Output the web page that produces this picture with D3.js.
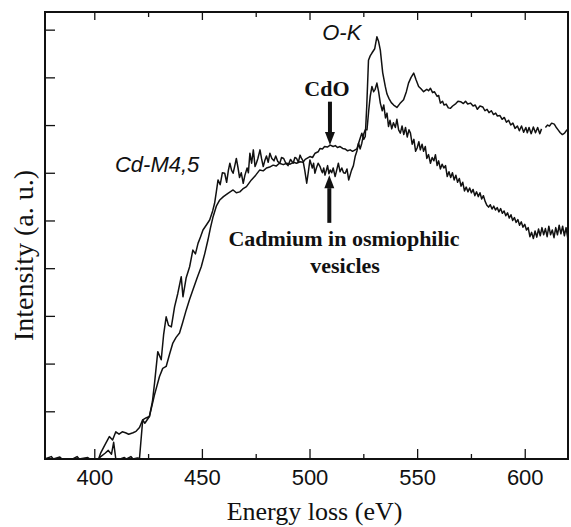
<!DOCTYPE html>
<html>
<head>
<meta charset="utf-8">
<script src="https://cdn.jsdelivr.net/npm/d3@7"></script>
<style>
  body { margin: 0; background: #fff; }
</style>
</head>
<body>
<svg id="chart"></svg>
<script>
// CdO reference spectrum: [energy loss eV, intensity a.u.]
const cdoSeries = [
  [377, 0], [402, 0], [403, 0.13], [405, 0.3], [407, 0.47], [408.5, 0.4], [410, 0.57],
  [411.5, 0.52], [413, 0.57], [414.5, 0.55], [416, 0.52], [418, 0.55], [419.4, 0.58],
  [421, 0.66], [422.5, 0.82], [424, 0.86], [425.6, 0.89], [428, 1.35], [430.3, 1.73],
  [431.8, 1.9], [433.4, 1.94], [435, 2.2], [436.5, 2.43], [438, 2.55], [439.6, 2.64],
  [441, 2.85], [442.7, 3.12], [444.3, 3.35], [445.8, 3.54], [447.8, 3.8], [449.7, 4.03],
  [451.3, 4.3], [452.8, 4.59], [454, 4.85], [455.2, 5.08], [456.7, 5.3], [458.3, 5.43],
  [460, 5.5], [462.1, 5.57], [464.5, 5.64], [466, 5.58], [467.6, 5.6], [469, 5.66],
  [470.7, 5.71], [473, 5.85], [475, 5.95], [476.9, 6.06], [478.5, 6.04], [480, 6.1],
  [481.5, 6.12], [483.1, 6.16], [484.5, 6.14], [486, 6.2], [487.8, 6.17], [489.4, 6.2],
  [491, 6.18], [492.5, 6.22], [494, 6.2], [495.6, 6.23], [497, 6.22], [498, 6.28],
  [500.2, 6.34], [501.4, 6.32], [502.6, 6.41], [504, 6.44], [504.9, 6.51], [506, 6.5],
  [507, 6.55], [508.3, 6.54], [509.6, 6.58], [511, 6.55], [512, 6.57], [513, 6.53],
  [514.2, 6.55], [515.4, 6.51], [516.5, 6.5], [517.7, 6.46], [518.9, 6.48], [520, 6.45],
  [521.2, 6.48], [522, 6.5], [522.8, 6.62], [523.5, 6.72], [524.3, 6.83], [525.2, 6.7],
  [525.9, 6.76], [526.6, 7.4], [527.4, 8.36], [528.2, 8.45], [529, 8.51], [530.3, 8.6],
  [531.3, 8.85], [532.1, 8.75], [532.9, 8.57], [534, 8.1], [535.2, 7.81], [536, 7.65],
  [537, 7.55], [538, 7.47], [539.1, 7.42], [540.6, 7.37], [542, 7.45], [543.7, 7.53],
  [545, 7.7], [546, 7.88], [547.2, 8.0], [548.4, 8.09], [549.5, 7.95], [550.7, 7.81],
  [551.8, 7.76], [553, 7.7], [554.5, 7.75], [555.3, 7.72], [556.2, 7.77], [557.2, 7.68],
  [558, 7.7], [559.3, 7.6], [560, 7.62], [560.8, 7.46], [561.8, 7.5], [562.5, 7.42],
  [563.5, 7.44], [564.5, 7.36], [565.5, 7.35], [566.5, 7.4], [568, 7.45], [569, 7.5],
  [570.2, 7.49], [571.5, 7.45], [572.5, 7.5], [573.5, 7.44], [574.8, 7.46], [576, 7.4],
  [577, 7.42], [578, 7.33], [579.2, 7.4], [580.5, 7.38], [581.5, 7.3], [582.5, 7.33],
  [583.4, 7.26], [584.5, 7.3], [585.5, 7.22], [586.5, 7.25], [587.3, 7.19], [588.5, 7.2],
  [589.5, 7.12], [590.5, 7.16], [591.5, 7.06], [592.5, 7.1], [593.5, 7.0], [594.5, 7.04],
  [595.5, 6.93], [596.6, 6.98], [597.5, 6.88], [598.5, 6.98], [599.5, 6.85], [600.5, 6.95],
  [601.2, 6.84], [602, 6.95], [603, 6.82], [604, 6.96], [605, 6.84], [606, 6.95],
  [607, 6.82], [607.8, 6.92], [608.7, null], [609.6, 6.95], [610.6, 7.0], [611.5, 6.98],
  [612.5, 7.04], [613.7, 7.02], [614.5, 6.96], [615.5, 6.9], [616.5, 6.84], [617.5, 6.8],
  [618.5, 6.83], [619.3, 6.88], [620.1, 6.92]
];

// Cadmium in osmiophilic vesicles: [energy loss eV, intensity a.u.]
const vesicleSeries = [
  [377, 0], [380, 0.05], [381, 0], [384, 0.04], [385, 0], [390, 0], [392, 0.05], [393, 0],
  [397, 0.03], [398, 0], [402, 0], [403, 0.05], [405, 0.12], [406.5, 0.18], [408, 0.1],
  [409, 0.35], [410, 0], [412, 0], [414, 0.03], [415, 0], [417, 0.05], [418, 0],
  [420, 0.02], [421, 0.01], [422.5, 0.82], [423.5, 0.75], [425.6, 0.89], [427, 1.2],
  [428, 1.59], [429.5, 2.25], [431.1, 2.08], [432.2, 2.6], [433.4, 2.98], [434.5, 2.8],
  [435.8, 2.77], [437.3, 3.19], [438.8, 3.47], [440.4, 3.82], [441.2, 3.4], [442.7, 3.8],
  [444.3, 4.03], [445.8, 4.38], [447, 4.3], [448.2, 4.52], [449.3, 4.65], [450.5, 4.8],
  [452, 4.9], [453.6, 5.01], [455, 5.2], [455.9, 5.36], [456.7, 5.6], [457.5, 5.85],
  [458.5, 5.75], [459.5, 6.0], [460.6, 5.99], [461.5, 5.8], [462.3, 6.05], [463, 6.2],
  [463.8, 6.05], [464.5, 5.99], [465.3, 6.15], [466, 6.3], [466.8, 6.1], [467.5, 5.9],
  [468.3, 6.0], [469.2, 5.78], [470, 5.95], [471, 6.1], [471.6, 6.0], [472.3, 6.41],
  [473.1, 6.2], [473.9, 6.48], [474.7, 6.13], [475.3, 6.2], [476, 6.3], [477, 6.48],
  [477.7, 6.3], [478.5, 6.13], [479.2, 6.25], [480, 6.35], [480.8, 6.22], [481.6, 6.41],
  [482.5, 6.3], [483.5, 6.25], [484.3, 6.35], [485.2, 6.24], [486.2, 6.2], [487, 6.32],
  [488, 6.3], [489, 6.2], [490, 6.15], [491.2, 6.28], [492.4, 6.2], [493.2, 6.32],
  [494, 6.3], [494.8, 6.22], [495.6, 6.37], [496.3, 6.3], [497, 6.25], [497.8, 6.05],
  [498.7, 5.78], [499.4, 6.0], [500.2, 6.27], [501.3, 6.1], [501.9, 6.2], [502.5, 5.99],
  [503.2, 6.1], [504, 6.2], [504.9, 6.13], [505.5, 6.05], [506, 6.0], [506.6, 6.1],
  [507.2, 5.95], [507.8, 6.05], [508.4, 6.15], [509, 5.98], [509.6, 6.06], [510.3, 6.0],
  [511, 6.1], [511.9, 5.92], [512.6, 6.05], [513.4, 6.2], [514.2, 6.02], [515, 6.1],
  [515.8, 6.0], [516.6, 5.99], [517.4, 6.08], [518.2, 5.85], [519.5, 6.05], [520.4, 6.15],
  [521.2, 6.34], [522, 6.45], [522.8, 6.62], [523.5, 6.5], [524.3, 6.62], [525.1, 6.8],
  [525.9, 6.9], [526.7, 6.9], [527.5, 7.3], [528.2, 7.6], [529, 7.81], [529.8, 7.7],
  [530.5, 7.75], [531.3, 7.88], [532.1, 7.7], [532.9, 7.46], [533.8, 7.3], [534.5, 7.42],
  [535.3, 7.15], [536, 7.25], [536.7, 6.97], [537.4, 7.1], [538.2, 6.92], [539, 7.05],
  [539.9, 6.95], [540.6, 7.12], [541.4, 6.9], [542.2, 6.83], [543, 6.98], [543.8, 6.8],
  [544.6, 6.95], [545.4, 6.75], [546.2, 6.9], [546.9, 6.83], [547.7, 6.6], [548.5, 6.7],
  [549.3, 6.45], [550, 6.52], [550.8, 6.65], [551.5, 6.48], [552.3, 6.6], [553, 6.45],
  [553.8, 6.55], [554.5, 6.3], [555.3, 6.38], [556.2, 6.2], [557, 6.32], [557.8, 6.25],
  [558.5, 6.38], [559.3, 6.15], [560, 6.25], [560.8, 6.08], [561.6, 6.18], [562.4, 6.1],
  [563.2, 6.15], [564, 5.92], [564.8, 6.02], [565.6, 5.9], [566.4, 6.0], [567.2, 5.85],
  [568, 5.95], [568.8, 5.8], [569.6, 5.88], [570.4, 5.72], [571.2, 5.8], [572, 5.62],
  [572.8, 5.7], [573.6, 5.6], [574.4, 5.68], [575.2, 5.58], [576, 5.65], [576.8, 5.52],
  [577.6, 5.6], [578.4, 5.5], [579.2, 5.58], [580, 5.45], [580.8, 5.52], [581.6, 5.4],
  [582.4, 5.32], [583.2, 5.28], [584, 5.33], [584.8, 5.24], [585.6, 5.3], [586.4, 5.22],
  [587.2, 5.27], [588, 5.18], [588.8, 5.25], [589.6, 5.15], [590.4, 5.2], [591.2, 5.1],
  [592, 5.16], [592.8, 5.05], [593.6, 5.12], [594.4, 5.0], [595.2, 5.06], [596, 4.96],
  [596.8, 5.02], [597.6, 4.9], [598.4, 4.97], [599.2, 4.86], [600, 4.92], [600.8, 4.8],
  [601.6, 4.85], [602.4, 4.66], [603.2, 4.75], [604, 4.62], [604.8, 4.78], [605.6, 4.65],
  [606.4, 4.82], [607.2, 4.68], [608, 4.85], [608.8, 4.7], [609.6, 4.83], [610.4, 4.66],
  [611.2, 4.88], [612, 4.7], [612.8, 4.8], [613.6, 4.64], [614.4, 4.85], [615.2, 4.7],
  [616, 4.9], [616.8, 4.72], [617.6, 4.88], [618.4, 4.68], [619.2, 4.85], [620.1, 4.6]
];

const xMajorTicks = [400, 450, 500, 550, 600];
const xMinorTicks = [425, 475, 525, 575];
const yTicks = [1, 2, 3, 4, 5, 6, 7, 8, 9];

// text annotations: [text, eV, intensity, style]
const labels = [
  ['O-K', 515, 8.78, 'edge'],
  ['Cd-M4,5', 409.6, 6.02, 'edge-start'],
  ['CdO', 508.1, 7.6, 'bold'],
  ['Cadmium in osmiophilic', 516, 4.47, 'bold'],
  ['vesicles', 516.5, 3.89, 'bold']
];
// arrows: [eV, tail intensity, tip intensity]
const arrows = [
  [509.5, 7.49, 6.58],
  [509.2, 4.95, 5.95]
];

const svgWidth = 571;
const svgHeight = 527;
const margin = { top: 12, left: 45, right: 3, bottom: 68 };
const width = svgWidth - margin.left - margin.right;
const height = svgHeight - margin.top - margin.bottom;

const svg = d3.select('#chart')
  .attr('width', svgWidth)
  .attr('height', svgHeight);

const g = svg.append('g')
  .attr('transform', `translate(${margin.left}, ${margin.top})`);

const xScale = d3.scaleLinear().domain([377.1, 620.1]).range([0, width]);
const yScale = d3.scaleLinear().domain([0, 9.37]).range([height, 0]);

const sans = 'Liberation Sans, Arial, sans-serif';
const serif = 'Liberation Serif, Times New Roman, serif';

// bottom axis, ticks pointing inward
const bottom = g.append('g')
  .attr('transform', `translate(0, ${height})`)
  .call(d3.axisBottom(xScale).tickValues(xMajorTicks).tickSize(-10).tickPadding(10));
g.append('g')
  .attr('transform', `translate(0, ${height})`)
  .call(d3.axisBottom(xScale).tickValues(xMinorTicks).tickSize(-5).tickFormat(''));
bottom.selectAll('text')
  .attr('font-family', sans)
  .attr('font-size', 22)
  .attr('fill', '#111');

// top axis
g.append('g')
  .call(d3.axisTop(xScale).tickValues(xMajorTicks).tickSize(-8).tickFormat(''));
g.append('g')
  .call(d3.axisTop(xScale).tickValues(xMinorTicks).tickSize(-5).tickFormat(''));

// left axis, no labels
g.append('g')
  .call(d3.axisLeft(yScale).tickValues(yTicks).tickSize(-10).tickFormat(''));

g.selectAll('.domain').remove();
g.selectAll('.tick line').attr('stroke', '#111').attr('stroke-width', 1.3);

g.append('rect')
  .attr('width', width)
  .attr('height', height)
  .attr('fill', 'none')
  .attr('stroke', '#111')
  .attr('stroke-width', 2);

const line = d3.line()
  .defined(d => d[1] !== null)
  .x(d => xScale(d[0]))
  .y(d => yScale(d[1]));

[cdoSeries, vesicleSeries].forEach(series => {
  g.append('path')
    .datum(series)
    .attr('fill', 'none')
    .attr('stroke', '#111')
    .attr('stroke-width', 1.5)
    .attr('stroke-linejoin', 'round')
    .attr('d', line);
});

labels.forEach(([text, ev, val, style]) => {
  const t = g.append('text')
    .attr('x', xScale(ev))
    .attr('y', yScale(val))
    .attr('fill', '#111')
    .text(text);
  if (style === 'bold') {
    t.attr('font-family', serif).attr('font-size', 22).attr('font-weight', 'bold')
      .attr('text-anchor', 'middle');
  } else {
    t.attr('font-family', sans).attr('font-size', 22).attr('font-style', 'italic')
      .attr('text-anchor', style === 'edge' ? 'middle' : 'start');
  }
});

arrows.forEach(([ev, from, to]) => {
  const x = xScale(ev);
  const y0 = yScale(from);
  const y1 = yScale(to);
  const dir = Math.sign(y1 - y0);
  const headLen = 13;
  g.append('line')
    .attr('x1', x).attr('x2', x)
    .attr('y1', y0).attr('y2', y1 - dir * headLen)
    .attr('stroke', '#111')
    .attr('stroke-width', 4);
  g.append('path')
    .attr('d', `M${x - 5},${y1 - dir * headLen} L${x + 5},${y1 - dir * headLen} L${x},${y1} Z`)
    .attr('fill', '#111');
});

// axis titles
svg.append('text')
  .attr('x', margin.left + xScale(500) + 5)
  .attr('y', 520)
  .attr('text-anchor', 'middle')
  .attr('font-family', serif)
  .attr('font-size', 26)
  .attr('fill', '#111')
  .text('Energy loss (eV)');

svg.append('text')
  .attr('transform', `translate(33, ${margin.top + height / 2 + 20}) rotate(-90)`)
  .attr('text-anchor', 'middle')
  .attr('font-family', serif)
  .attr('font-size', 28)
  .attr('fill', '#111')
  .text('Intensity (a. u.)');
</script>
</body>
</html>
